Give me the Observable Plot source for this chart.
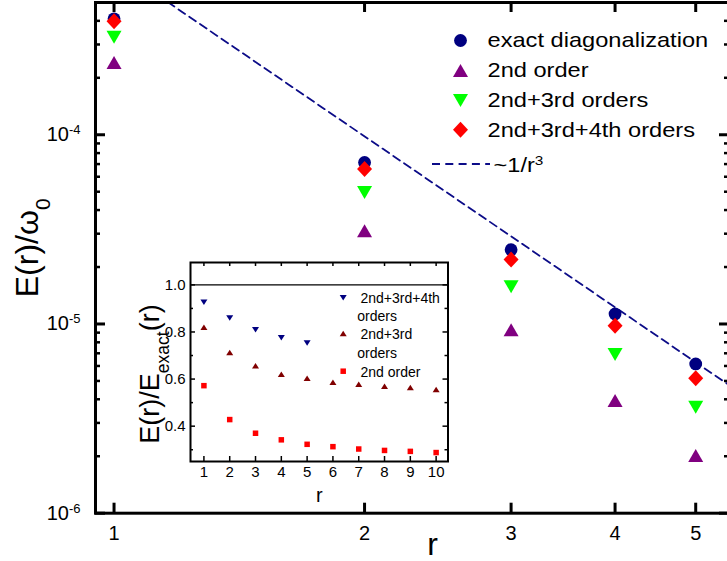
<!DOCTYPE html>
<html><head><meta charset="utf-8">
<script src="https://cdn.jsdelivr.net/npm/d3@7"></script>
<script src="https://cdn.jsdelivr.net/npm/@observablehq/plot@0.6"></script>
<style>
html,body{margin:0;padding:0;background:#fff;overflow:hidden;width:727px;height:561px}
#wrap{position:relative;width:727px;height:561px;overflow:hidden}
#main{position:absolute;left:0;top:0}
#inset{position:absolute;left:120px;top:250px}
</style></head><body><div id="wrap"><div id="main"></div><div id="inset"></div></div>
<script>
// ---------- main panel data ----------
const rValues = [1, 2, 3, 4, 5];
const exactDiag = [4.10e-4, 7.14e-5, 2.47e-5, 1.13e-5, 6.15e-6];
const order2 = [2.41e-4, 3.11e-5, 9.31e-6, 3.94e-6, 2.02e-6];
const order23 = [3.28e-4, 4.96e-5, 1.575e-5, 6.89e-6, 3.63e-6];
const order234 = [3.98e-4, 6.59e-5, 2.19e-5, 9.8e-6, 5.16e-6];
const guideR = [1, 6];            // ~1/r^3 guide line end points
const guideE = [7.85e-4, 3.63e-6];
const xTickValues = [1, 2, 3, 4, 5];
const yMajorTicks = [1e-6, 1e-5, 1e-4];
const yMinorTicks = [2e-6,3e-6,4e-6,5e-6,6e-6,7e-6,8e-6,9e-6,2e-5,3e-5,4e-5,5e-5,6e-5,7e-5,8e-5,9e-5,2e-4,3e-4,4e-4];
const legendLabels = ["exact diagonalization", "2nd order", "2nd+3rd orders", "2nd+3rd+4th orders"];
const guideLabel = "~1/r^{3}";

// ---------- inset data ----------
const rInset = [1, 2, 3, 4, 5, 6, 7, 8, 9, 10];
const ratio234 = [0.926, 0.859, 0.809, 0.775, 0.753];
const ratio23 = [0.820, 0.713, 0.657, 0.621, 0.603, 0.586, 0.578, 0.569, 0.564, 0.556];
const ratio2 = [0.572, 0.428, 0.370, 0.342, 0.323, 0.313, 0.303, 0.297, 0.293, 0.288];
const insetYMajor = [0.4, 0.6, 0.8, 1.0];
const insetYMinor = [0.3, 0.5, 0.7, 0.9];
const insetLegend = ["2nd+3rd+4th", "orders", "2nd+3rd", "orders", "2nd order"];

const FONT = '"Liberation Sans", Arial, Helvetica, sans-serif';
const NAVY = "#000080", PURPLE = "#800080", GREEN = "#00ff00", RED = "#ff0000", DARKRED = "#800000";
const DASHNAVY = "#0c0c88";

// custom symbols
const triUp = (w, h) => ({draw(c){c.moveTo(0,-h/2);c.lineTo(w/2,h/2);c.lineTo(-w/2,h/2);c.closePath();}});
const triDown = (w, h) => ({draw(c){c.moveTo(0,h/2);c.lineTo(w/2,-h/2);c.lineTo(-w/2,-h/2);c.closePath();}});
const diamond = (w, h) => ({draw(c){c.moveTo(0,-h/2);c.lineTo(w/2,0);c.lineTo(0,h/2);c.lineTo(-w/2,0);c.closePath();}});
const square = s => ({draw(c){c.rect(-s/2,-s/2,s,s);}});

const rows = rValues.map((r, i) => ({r, exact: exactDiag[i], o2: order2[i], o23: order23[i], o234: order234[i]}));
const guide = guideR.map((r, i) => ({r, e: guideE[i]}));

function rich(svg) {
  svg.querySelectorAll("text").forEach(t => {
    const s = t.textContent;
    if (!/[\^_]\{/.test(s)) return;
    while (t.firstChild) t.removeChild(t.firstChild);
    const re = /([\^_])\{([^}]*)\}/g; let last = 0, m;
    while ((m = re.exec(s))) {
      if (m.index > last) t.appendChild(document.createTextNode(s.slice(last, m.index)));
      const ts = document.createElementNS("http://www.w3.org/2000/svg", "tspan");
      ts.setAttribute("baseline-shift", m[1] === "^" ? "super" : "sub");
      ts.setAttribute("font-size", "65%");
      ts.textContent = m[2];
      t.appendChild(ts);
      last = re.lastIndex;
    }
    if (last < s.length) t.appendChild(document.createTextNode(s.slice(last)));
  });
}
// widen the main legend lettering, as in the original figure
function stretch(svg, labels, factor) {
  svg.querySelectorAll("text").forEach(t => {
    if (!labels.includes(t.getAttribute("data-src"))) return;
    const len = t.getComputedTextLength();
    t.setAttribute("textLength", (len * factor).toFixed(1));
    t.setAttribute("lengthAdjust", "spacingAndGlyphs");
  });
}
function tagTexts(svg) {
  svg.querySelectorAll("text").forEach(t => t.setAttribute("data-src", t.textContent));
}

// ---------- main plot ----------
const MW = 729, MH = 561, ML = 95, MR = 0, MT = 2, MB = 48.3;
const FW = MW - ML - MR, FH = MH - MT - MB;
const symbolsMain = [
  {key: "exact", symbol: "circle", r: 6.4, fill: NAVY},
  {key: "o2", symbol: triUp(15, 13), fill: PURPLE},
  {key: "o23", symbol: triDown(15, 13), fill: GREEN},
  {key: "o234", symbol: diamond(15, 16), fill: RED}
];
const legendY = [38, 68, 98, 127.3];

const mainMarks = [
  Plot.line(guide, {x: "r", y: "e", stroke: DASHNAVY, strokeWidth: 1.8, strokeDasharray: "8,5", clip: true}),
  ...symbolsMain.map(s => Plot.dot(rows, {x: "r", y: s.key, symbol: s.symbol, r: s.r || 5, fill: s.fill, stroke: "none"})),
  // legend
  ...symbolsMain.map((s, i) => Plot.dot([0], {frameAnchor: "top-left", dx: 365, dy: legendY[i], symbol: s.symbol, r: s.r || 5, fill: s.fill, stroke: "none"})),
  ...legendLabels.map((t, i) => Plot.text([t], {text: d => d, frameAnchor: "top-left", dx: 392, dy: legendY[i], textAnchor: "start", lineAnchor: "middle", fontSize: 21, fill: "black"})),
  (index, scales, values, dims) => {
    const g = d3.create("svg:g");
    g.append("line")
      .attr("x1", dims.marginLeft + 337).attr("x2", dims.marginLeft + 395)
      .attr("y1", dims.marginTop + 162).attr("y2", dims.marginTop + 162)
      .attr("stroke", DASHNAVY).attr("stroke-width", 1.8).attr("stroke-dasharray", "8,5.3");
    return g.node();
  },
  Plot.text([guideLabel], {text: d => d, frameAnchor: "top-left", dx: 398, dy: 163, textAnchor: "start", lineAnchor: "middle", fontSize: 21, fill: "black"}),
  // frame
  Plot.frame({stroke: "black", strokeWidth: 3}),
  // ticks (inward)
  Plot.tickY(yMajorTicks, {y: d => d, insetRight: FW - 10, strokeWidth: 3}),
  Plot.tickY(yMinorTicks, {y: d => d, insetRight: FW - 5, strokeWidth: 2.5}),
  Plot.tickY(yMajorTicks, {y: d => d, insetLeft: FW - 10, strokeWidth: 3}),
  Plot.tickY(yMinorTicks, {y: d => d, insetLeft: FW - 5, strokeWidth: 2.5}),
  Plot.tickX(xTickValues, {x: d => d, insetTop: FH - 10, strokeWidth: 3}),
  Plot.tickX(xTickValues, {x: d => d, insetBottom: FH - 10, strokeWidth: 3}),
  // tick labels
  Plot.text(yMajorTicks, {y: d => d, text: d => "10^{" + Math.round(Math.log10(d)) + "}", frameAnchor: "left", dx: -15, textAnchor: "end", lineAnchor: "middle", fontSize: 20, fill: "black"}),
  Plot.text(xTickValues, {x: d => d, text: d => String(d), frameAnchor: "bottom", dy: 20, textAnchor: "middle", lineAnchor: "middle", fontSize: 20, fill: "black"}),
  // axis titles
  Plot.text(["E(r)/ω_{0}"], {text: d => d, frameAnchor: "left", dx: -68, dy: -10, rotate: -90, textAnchor: "middle", lineAnchor: "middle", fontSize: 32, fill: "black"}),
  Plot.text(["r"], {text: d => d, frameAnchor: "bottom", dx: 20, dy: 32, textAnchor: "middle", lineAnchor: "middle", fontSize: 32, fill: "black"})
];

const mainPlot = Plot.plot({
  width: MW, height: MH, marginLeft: ML, marginRight: MR, marginTop: MT, marginBottom: MB,
  x: {type: "log", domain: [0.95, 5.49], axis: null},
  y: {type: "log", domain: [1e-6, 5e-4], axis: null},
  style: {fontFamily: FONT, background: "white", maxWidth: "none", overflow: "visible"},
  marks: mainMarks
});
tagTexts(mainPlot);
rich(mainPlot);
document.getElementById("main").appendChild(mainPlot);
stretch(mainPlot, [...legendLabels, guideLabel], 1.125);

// ---------- inset ----------
const IW = 332.5, IH = 256, IL = 70, IR = 5, IT = 12, IB = 45;
const IFW = IW - IL - IR, IFH = IH - IT - IB;
const insetRows = rInset.map((r, i) => ({r, q23: ratio23[i], q2: ratio2[i], q234: i < ratio234.length ? ratio234[i] : null}));
const insetSyms = [
  {key: "q234", symbol: triDown(7, 5.5), fill: NAVY},
  {key: "q23", symbol: triUp(7, 5.5), fill: DARKRED},
  {key: "q2", symbol: square(5.5), fill: RED}
];
const insetLegendRows = [
  {label: 0, sym: 0, dy: 36.3}, {label: 1, dy: 54}, {label: 2, sym: 1, dy: 72}, {label: 3, dy: 91.3}, {label: 4, sym: 2, dy: 109.7}
];
const insetMarks = [
  Plot.frame({fill: "white", stroke: "none"}),
  Plot.ruleY([1.0], {stroke: "black", strokeWidth: 1.2}),
  ...insetSyms.map(s => Plot.dot(insetRows.filter(d => d[s.key] != null), {x: "r", y: s.key, symbol: s.symbol, fill: s.fill, stroke: "none"})),
  ...insetLegendRows.filter(d => d.sym != null).map(d => Plot.dot([0], {frameAnchor: "top-left", dx: 152.7, dy: d.dy - 1, symbol: insetSyms[d.sym].symbol, fill: insetSyms[d.sym].fill, stroke: "none"})),
  ...insetLegendRows.map(d => Plot.text([insetLegend[d.label]], {text: t => t, frameAnchor: "top-left", dx: d.sym != null ? 170 : 166.7, dy: d.dy, textAnchor: "start", lineAnchor: "middle", fontSize: 14, fill: "black"})),
  Plot.frame({stroke: "black", strokeWidth: 2}),
  Plot.tickX(rInset, {x: d => d, insetTop: IFH - 5, strokeWidth: 1.5}),
  Plot.tickX(rInset, {x: d => d, insetBottom: IFH - 4, strokeWidth: 1.5}),
  Plot.tickY(insetYMajor, {y: d => d, insetRight: IFW - 5, strokeWidth: 1.5}),
  Plot.tickY(insetYMinor, {y: d => d, insetRight: IFW - 3, strokeWidth: 1.5}),
  Plot.tickY(insetYMajor, {y: d => d, insetLeft: IFW - 5, strokeWidth: 1.5}),
  Plot.tickY(insetYMinor, {y: d => d, insetLeft: IFW - 3, strokeWidth: 1.5}),
  Plot.text(insetYMajor, {y: d => d, text: d => d.toFixed(1), frameAnchor: "left", dx: -5, textAnchor: "end", lineAnchor: "middle", fontSize: 15, fill: "black"}),
  Plot.text(rInset, {x: d => d, text: d => String(d), frameAnchor: "bottom", dy: 11, textAnchor: "middle", lineAnchor: "middle", fontSize: 15, fill: "black"}),
  Plot.text(["E(r)/E_{exact}(r)"], {text: d => d, frameAnchor: "left", dx: -40, dy: 12, rotate: -90, textAnchor: "middle", lineAnchor: "middle", fontSize: 27, fill: "black"}),
  Plot.text(["r"], {text: d => d, frameAnchor: "bottom", dy: 34, textAnchor: "middle", lineAnchor: "middle", fontSize: 20, fill: "black"})
];
const insetPlot = Plot.plot({
  width: IW, height: IH, marginLeft: IL, marginRight: IR, marginTop: IT, marginBottom: IB,
  x: {domain: [0.48, 10.46], axis: null},
  y: {domain: [0.25, 1.095], axis: null},
  style: {fontFamily: FONT, background: "transparent", maxWidth: "none", overflow: "visible"},
  marks: insetMarks
});
rich(insetPlot);
document.getElementById("inset").appendChild(insetPlot);
</script></body></html>
